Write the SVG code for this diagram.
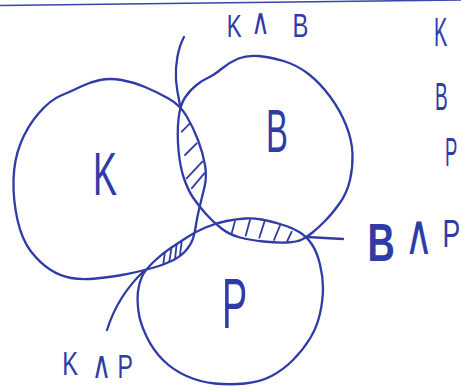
<svg xmlns="http://www.w3.org/2000/svg" width="461" height="387" viewBox="0 0 461 387">
<style>
.ink{fill:none;stroke:#2f3ca6;stroke-width:2.3;stroke-linecap:round;stroke-linejoin:round}
.hatch{fill:none;stroke:#2f3ca6;stroke-width:1.8;stroke-linecap:round}
.lbl{fill:#2f3ca6;font-family:"Liberation Sans","DejaVu Sans",sans-serif}
</style>
<defs>
<path id="pK" d="M100,80 Q110,78 121.5,80 Q133,82 145,87 Q157,92 168.5,98.5 Q180,105 186.5,116 Q193,127 198,140 Q203,153 205,165 Q207,177 204.5,187 Q202,197 199.5,207.5 Q197,218 196,225 Q195,232 193,238.5 Q191,245 185.5,251 Q180,257 171.5,261 Q163,265 154,267.5 Q145,270 136.5,272 Q128,274 119,275.5 Q110,277 96,278.5 Q82,280 71,278 Q60,276 50,269.5 Q40,263 31,251.5 Q22,240 17.5,220 Q13,200 13.5,180 Q14,160 20.5,143.5 Q27,127 38.5,113.5 Q50,100 61,95.5 Q72,91 81,86.5 Q90,82 100,80 Z"/>
<path id="pB" d="M238.5,58.5 Q247,55 258.5,56 Q270,57 283.5,61 Q297,65 308.5,74 Q320,83 330,96.5 Q340,110 346,125 Q352,140 352.5,153.5 Q353,167 350,180 Q347,193 339.5,203.5 Q332,214 325,221 Q318,228 312.5,232.5 Q307,237 302,239.5 Q297,242 287,242.5 Q277,243 263.5,241.5 Q250,240 240,237.5 Q230,235 221.5,228.5 Q213,222 205.5,213.5 Q198,205 193,197.5 Q188,190 184,178.5 Q180,167 178.5,150 Q177,133 178.5,119 Q180,105 185,97.5 Q190,90 196.5,85 Q203,80 208.5,77.5 Q214,75 222,68.5 Q230,62 238.5,58.5 Z"/>
<path id="pP" d="M142,276.5 Q145,270 154,261.5 Q163,253 171.5,247.5 Q180,242 187.5,237 Q195,232 205.5,227.5 Q216,223 226.5,221 Q237,219 245,218.5 Q253,218 261.5,219.5 Q270,221 281.5,224.5 Q293,228 300,232.5 Q307,237 312,244.5 Q317,252 320,264.5 Q323,277 323,288.5 Q323,300 320,313.5 Q317,327 310,338.5 Q303,350 293,360 Q283,370 271.5,376 Q260,382 245,383.5 Q230,385 215,383.5 Q200,382 186.5,376 Q173,370 163,360 Q153,350 146.5,336.5 Q140,323 138.5,311.5 Q137,300 138,291.5 Q139,283 142,276.5 Z"/>
<clipPath id="cK"><use href="#pK"/></clipPath>
<clipPath id="cB"><use href="#pB"/></clipPath>
<clipPath id="cP"><use href="#pP"/></clipPath>
</defs>

<path id="top-line" d="M0,5.5 C150,3.5 300,1.5 461,0" fill="none" stroke="#3a48ab" stroke-width="1.6"/>

<g id="node-K">
<use href="#pK" class="ink"/>
<text class="lbl" transform="translate(93 195) scale(0.58 1)" font-size="62">K</text>
</g>
<g id="node-B">
<use href="#pB" class="ink"/>
<text class="lbl" transform="translate(266 152) scale(0.53 1)" font-size="62">B</text>
</g>
<g id="node-P">
<use href="#pP" class="ink"/>
<text class="lbl" transform="translate(222 328) scale(0.54 1)" font-size="70">P</text>
</g>

<g id="intersections">
<g clip-path="url(#cK)"><g clip-path="url(#cB)">
<path class="hatch" d="M181.7,131.7 L190,123.3 M185,155 L196.7,143.3 M186.7,178.3 L202.3,161.7 M191.7,188.3 L204.3,173.3"/>
</g></g>
<g clip-path="url(#cB)"><g clip-path="url(#cP)">
<path class="hatch" d="M235,221 L231.7,233.3 M250,220 L245.7,235.7 M265,220 L259.3,237.7 M280,225.7 L274,240 M291.7,231.7 L287.3,241"/>
</g></g>
<g clip-path="url(#cK)"><g clip-path="url(#cP)">
<path class="hatch" d="M165,251.7 L163.3,264 M171.7,246.7 L169.3,261.7 M176.7,243.3 L175,259.3 M181.7,241.7 L180,255"/>
</g></g>
</g>

<g id="connectors">
<path class="ink" d="M184,37 C178,48 175,65 176,80 C177,92 179,100 180,105"/>
<path class="ink" d="M107,330 Q118,295 145,270"/>
<path class="ink" d="M307,237 Q325,238 343,239"/>
</g>

<g id="labels">
<text class="lbl" transform="translate(0 0) scale(0.7 1)"><tspan x="324" y="37" font-size="32">K</tspan><tspan x="359" y="34" font-size="36">∧</tspan><tspan x="418" y="37" font-size="34">B</tspan></text>
<text class="lbl" transform="translate(0 0) scale(0.7 1)"><tspan x="525" y="261" font-size="54" font-weight="bold">B</tspan><tspan x="578" y="254" font-size="56">∧</tspan><tspan x="632" y="247" font-size="38">P</tspan></text>
<text class="lbl" transform="translate(0 0) scale(0.7 1)"><tspan x="89" y="375" font-size="34">K</tspan><tspan x="131" y="378" font-size="38">∧</tspan><tspan x="168" y="378" font-size="33">P</tspan></text>
</g>

<g id="legend">
<text class="lbl" transform="translate(434 46) scale(0.5 1)" font-size="40">K</text>
<text class="lbl" transform="translate(435 110) scale(0.5 1)" font-size="38">B</text>
<text class="lbl" transform="translate(445 166) scale(0.45 1)" font-size="41">P</text>
</g>
</svg>
